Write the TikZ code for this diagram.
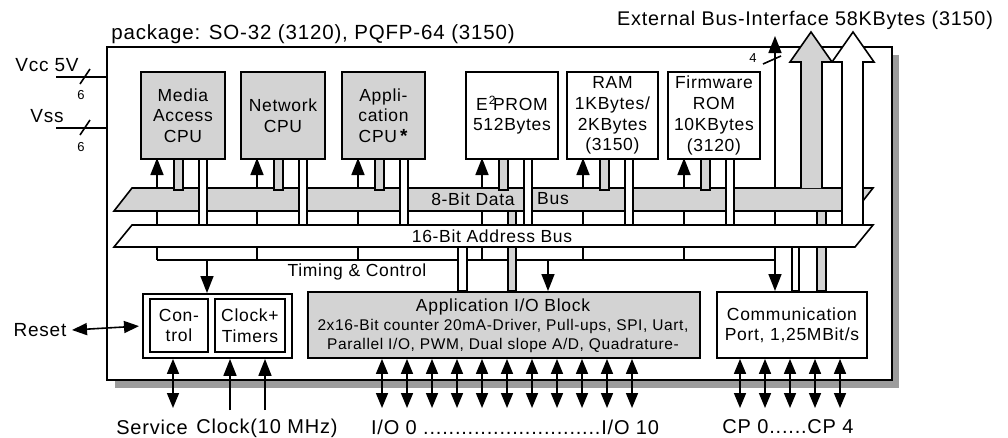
\documentclass[tikz,border=0pt]{standalone}
\usepackage{fontspec}
\setmainfont{Liberation Sans}[LetterSpace=4]
\usetikzlibrary{arrows.meta}
\definecolor{boxgray}{HTML}{D3D3D3}
\definecolor{shadowgray}{HTML}{9C9C9C}
\tikzset{
  frame/.style={draw=black, line width=1.9pt},
  thinline/.style={draw=black, line width=1.6pt},
  cpubox/.style={frame, fill=boxgray, anchor=north west, inner sep=0pt, minimum height=87pt, align=center, font=\fontsize{17.5}{20.7}\selectfont},
  membox/.style={cpubox, fill=white},
  tipup/.style={-{Triangle[length=17pt,width=13pt]}},
  dtip/.style={{Triangle[length=15pt,width=12pt]}-{Triangle[length=15pt,width=12pt]}},
  gbar/.style={thinline, fill=boxgray},
  wbar/.style={thinline, fill=white},
  lbl/.style={inner sep=0pt, font=\fontsize{20}{22}\selectfont},
  small/.style={inner sep=0pt, font=\fontsize{13}{14}\selectfont},
}
\begin{document}
\begin{tikzpicture}[x=1pt,y=-1pt]
\useasboundingbox (0,0) rectangle (1008,437);
% main package box with shadow
\fill[shadowgray] (115,55) rectangle (899,388);
\draw[frame, fill=white] (107,47) rectangle (892,380);
% top labels
\node[lbl, font=\fontsize{20.5}{22}\selectfont] (pkg) at (313,34) {package: SO-32 (3120), PQFP-64 (3150)};
\node[lbl, font=\fontsize{19.8}{22}\selectfont] (ext) at (805,20) {External Bus-Interface 58KBytes (3150)};
% supply lines
\node[lbl, font=\fontsize{19}{22}\selectfont] (vcc) at (47,65) {Vcc 5V};
\node[lbl, font=\fontsize{19}{22}\selectfont] (vss) at (47,116) {Vss};
\coordinate (vccL) at (56,77); \coordinate (vccR) at (107,77);
\coordinate (vssL) at (56,128); \coordinate (vssR) at (107,128);
\draw[thinline] (vccL) -- (vccR);
\draw[thinline] (vssL) -- (vssR);
\draw[thinline] (80,84) -- (90,69);
\draw[thinline] (80,135) -- (90,120);
\node[small] (n6a) at (81,95) {6};
\node[small] (n6b) at (81,147) {6};
% timing line ends
\coordinate (tl) at (157,260);
\coordinate (tr) at (775,260);
% control lines from timing line up to the boxes
\foreach \L in {140,240,341,465,566,667}{
  \draw[thinline, tipup] (\L+17,260) -- (\L+17,158);
}
\draw[thinline] (tl) -- (tr);
% 4-bit line to external interface
\coordinate (ext4) at (775,36);
\draw[thinline, tipup] (tr) -- (ext4);
\draw[thinline] (763,64) -- (781,56);
\node[small] (n4) at (753,58) {4};
% lower connections (under the buses)
\draw[gbar] (508,205) rectangle (516,291);
\draw[wbar] (458,240) rectangle (467,291);
\draw[gbar] (817,205) rectangle (826,291);
\draw[wbar] (792,240) rectangle (799,291);
% data bus
\draw[thinline, fill=boxgray] (132,188) -- (873,188) -- (855,211) -- (114,211) -- cycle;
% gray bars from boxes to data bus
\foreach \L in {140,240,341,465,566,667}{
  \draw[gbar] (\L+34,158) rectangle (\L+43,190);
}
% gray block arrow
\draw[thinline, fill=boxgray] (801,188) -- (801,62) -- (790,62) -- (811,32) -- (832,62) -- (822,62) -- (822,188);
% white bars from boxes to address bus
\foreach \L in {140,240,341,465,566,667}{
  \draw[wbar] (\L+59,158) rectangle (\L+67,226);
}
% white block arrow
\draw[thinline, fill=white] (842,226) -- (842,62) -- (832,62) -- (853,32) -- (874,62) -- (863,62) -- (863,226);
% address bus
\draw[thinline, fill=white] (132,225) -- (873,225) -- (855,247) -- (114,247) -- cycle;
% bus labels
\node[inner sep=0pt, font=\fontsize{17.5}{20}\selectfont] (dlab) at (473,199) {8-Bit Data};
\node[inner sep=0pt, font=\fontsize{17.5}{20}\selectfont] (dlab2) at (553,199) {Bus};
\node[inner sep=0pt, font=\fontsize{17.5}{20}\selectfont] (alab) at (492,236) {16-Bit Address Bus};
\node[inner sep=0pt, font=\fontsize{17.5}{20}\selectfont] (tlab) at (357,272) {Timing \& Control};
% upper boxes
\node[cpubox, minimum width=84pt] (mac) at (140,71) {Media\\Access\\CPU};
\node[cpubox, minimum width=84pt] (ncpu) at (240,71) {Network\\CPU};
\node[cpubox, minimum width=83pt] (acpu) at (341,71) {Appli-\\cation\\CPU\,{\fontsize{19}{19}\selectfont\textbf{*}}};
\node[membox, minimum width=92pt] (eep) at (465,71) {E\kern1pt\raisebox{.6ex}{\fontsize{12}{12}\selectfont 2}\kern-2.5pt PROM\\512Bytes};
\node[membox, minimum width=91pt] (ram) at (566,71) {RAM\\1KBytes/\\2KBytes\\(3150)};
\node[membox, minimum width=92pt] (fw) at (667,71) {Firmware\\ROM\\10KBytes\\(3120)};
% lower blocks
\node[frame, fill=white, anchor=north west, inner sep=0pt, minimum width=149pt, minimum height=64pt] (ctl) at (142,293) {};
\node[frame, fill=white, anchor=north west, inner sep=0pt, minimum width=58pt, minimum height=53pt, align=center, font=\fontsize{17.5}{20.7}\selectfont] (con) at (149,298) {Con-\\trol};
\node[frame, fill=white, anchor=north west, inner sep=0pt, minimum width=70pt, minimum height=53pt, align=center, font=\fontsize{17.5}{20.7}\selectfont] (clk) at (214,298) {Clock+\\Timers};
\node[frame, fill=boxgray, anchor=north west, inner sep=0pt, minimum width=392pt, minimum height=66pt] (io) at (307,291) {};
\node[inner sep=0pt, font=\fontsize{17.5}{20}\selectfont] (iot) at (503,307) {Application I/O Block};
\node[inner sep=0pt, font=\fontsize{15.5}{19}\selectfont, align=center] (iod) at (503,335.5) {2x16-Bit counter 20mA-Driver, Pull-ups, SPI, Uart,\\Parallel I/O, PWM, Dual slope A/D, Quadrature-};
\node[frame, fill=white, anchor=north west, inner sep=0pt, minimum width=150pt, minimum height=66pt, align=center, font=\fontsize{17.5}{20}\selectfont] (com) at (716,291) {Communication\\Port, 1,25MBit/s};
% down arrows from timing line
\coordinate (ctlin) at (207,260);
\coordinate (ioin) at (548,260);
\draw[thinline, tipup] (ctlin) -- (ctl.north -| ctlin);
\draw[thinline, tipup] (ioin) -- (io.north -| ioin);
\draw[thinline, tipup] (tr) -- (com.north -| tr);
% reset
\node[lbl, font=\fontsize{19}{22}\selectfont] (rst) at (40,330) {Reset};
\coordinate (rstR) at (72,330);
\draw[thinline, dtip, shorten >=3pt] (rstR) -- (ctl.west);
% service and clock
\coordinate (svc) at (173,408);
\draw[thinline, dtip] (ctl.south -| svc) -- (svc);
\coordinate (ck1) at (230,410);
\coordinate (ck2) at (265,410);
\draw[thinline, tipup] (ck1) -- (ctl.south -| ck1);
\draw[thinline, tipup] (ck2) -- (ctl.south -| ck2);
% I/O lines
\foreach \k in {0,...,10}{
  \coordinate (io\k) at (382+25*\k,408);
  \draw[thinline, dtip] (io.south -| io\k) -- (io\k);
}
% CP lines
\foreach \k in {0,...,4}{
  \coordinate (cp\k) at (740+25*\k,408);
  \draw[thinline, dtip] (com.south -| cp\k) -- (cp\k);
}
% bottom labels
\node[lbl] (svcl) at (152,427) {Service};
\node[lbl] (clkl) at (267,428) {Clock(10 MHz)};
\node[lbl] (iol) at (515,427) {I/O 0 ............................I/O 10};
\node[lbl] (cpl) at (788,427) {CP 0......CP 4};
\end{tikzpicture}
\end{document}
